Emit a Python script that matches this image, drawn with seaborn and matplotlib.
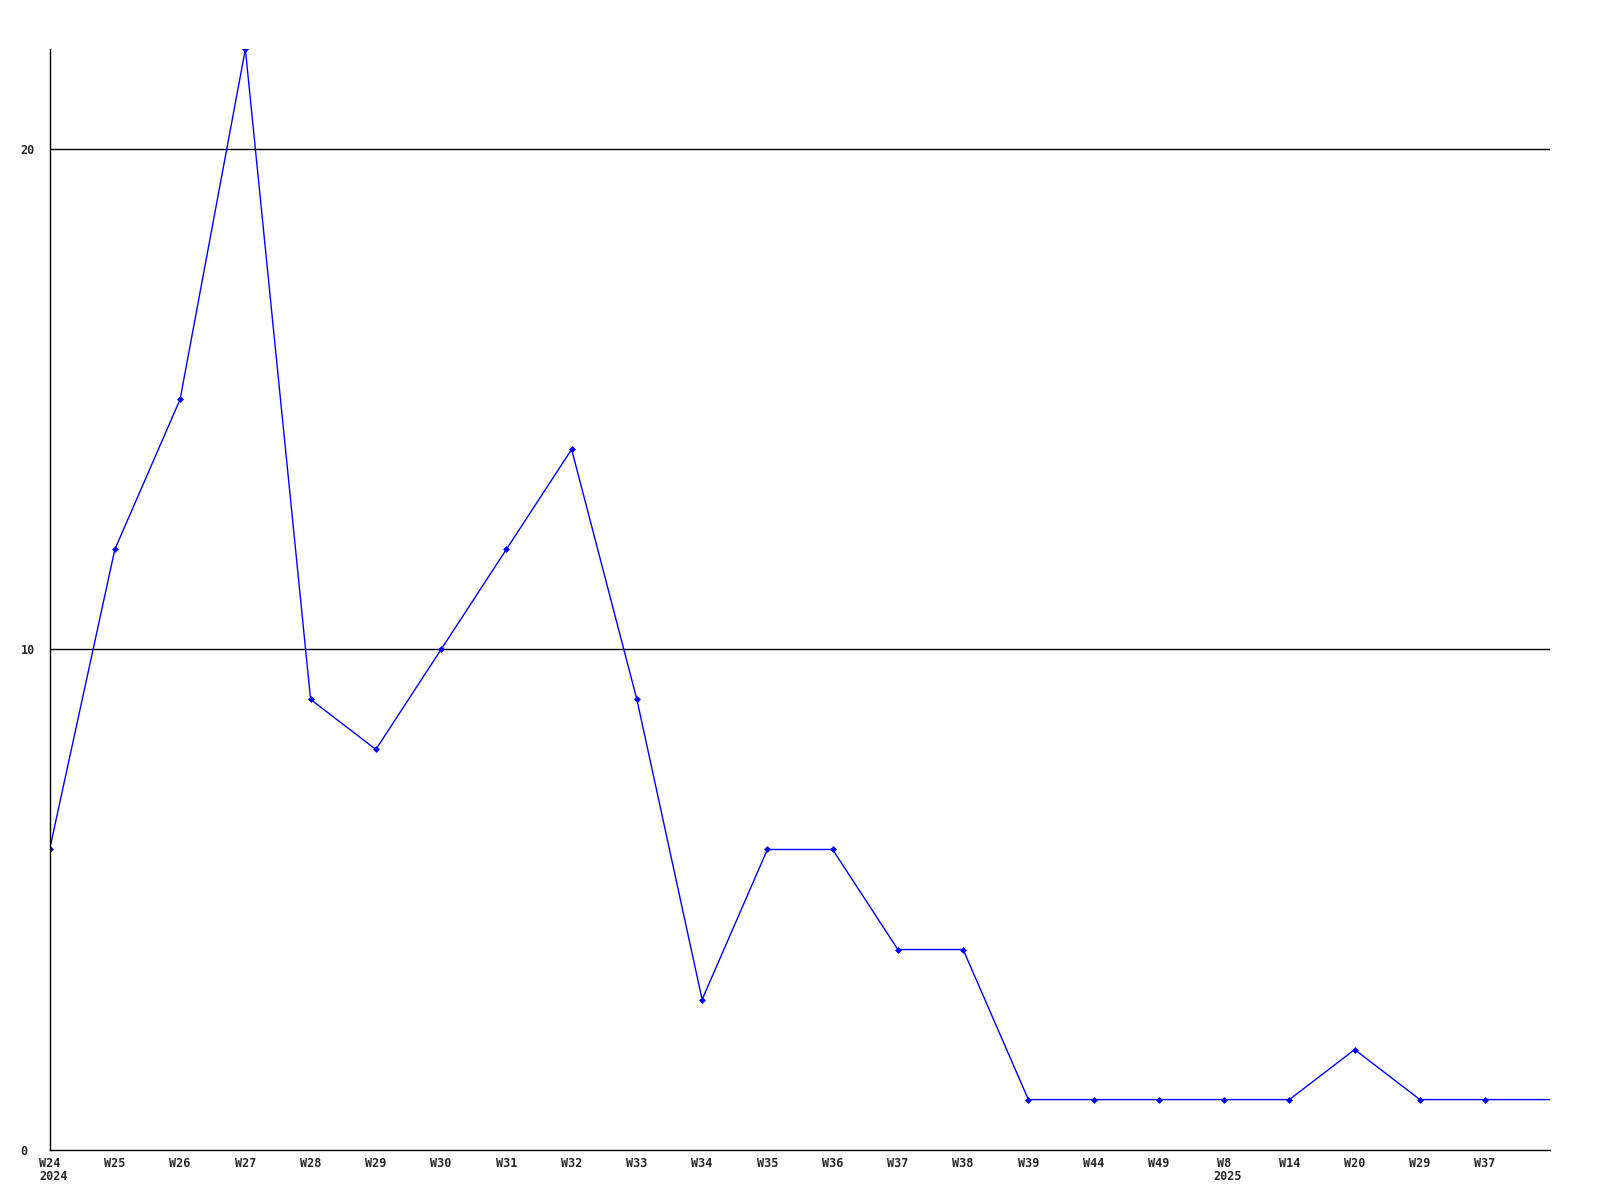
import numpy as np
import pandas as pd
import matplotlib
matplotlib.use('Agg')
import matplotlib.pyplot as plt
import matplotlib.transforms as mtransforms
import seaborn as sns

weeks = ['W24', 'W25', 'W26', 'W27', 'W28', 'W29', 'W30', 'W31', 'W32', 'W33',
         'W34', 'W35', 'W36', 'W37', 'W38', 'W39', 'W44', 'W49', 'W8', 'W14',
         'W20', 'W29', 'W37', '']
years = ['2024', '', '', '', '', '', '', '', '', '', '', '', '', '', '', '', '',
         '', '2025', '', '', '', '', '']
counts = [6, 12, 15, 22, 9, 8, 10, 12, 14, 9, 3, 6, 6, 4, 4, 1, 1, 1, 1, 1, 2, 1, 1, 1]

df = pd.DataFrame({'pos': np.arange(len(counts)), 'count': counts})

sns.set_style('white')
plt.rcParams['font.family'] = ['DejaVu Sans Mono']

fig = plt.figure(figsize=(16, 12), dpi=100)
ax = fig.add_axes([0.031, 0.042, 0.938, 0.917])

sns.lineplot(data=df, x='pos', y='count', ax=ax, color='#0000ff', linewidth=1,
             marker='D', markersize=3.5, markeredgewidth=0,
             markevery=list(range(len(counts) - 1)))

ax.set_xlim(0, len(counts) - 1)
ax.set_ylim(0, 22)
ax.set_yticks([0, 10, 20])
ax.set_yticklabels(['0', '10', '20'], fontsize=8.5, fontweight='bold', ha='left')
ax.set_xticks(df['pos'][:-1])
ax.set_xticklabels(weeks[:-1], fontsize=8.5, fontweight='bold', ha='center')
ax.tick_params(length=0, pad=5)
ax.tick_params(axis='y', pad=21)
ax.set_xlabel('')
ax.set_ylabel('')

# year labels under the first week of each year, left-aligned with the week text
offset = mtransforms.ScaledTranslation(-10.5 / 100, -20 / 100, fig.dpi_scale_trans)
for p, y in zip(df['pos'], years):
    if y:
        ax.text(p, 0, y, transform=ax.get_xaxis_transform() + offset,
                ha='left', va='top', fontsize=8.5, fontweight='bold')

for v in [10, 20]:
    ax.axhline(v, color='black', linewidth=1, zorder=0)

for s in ['top', 'right']:
    ax.spines[s].set_visible(False)
for s in ['left', 'bottom']:
    ax.spines[s].set_color('black')
    ax.spines[s].set_linewidth(1)

fig.savefig('out.png', dpi=100, facecolor='white')
